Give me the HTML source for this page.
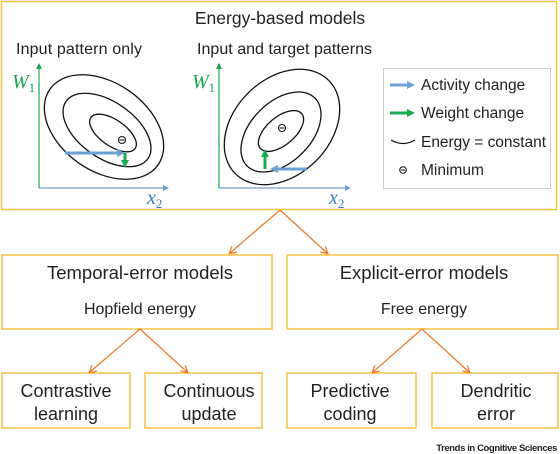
<!DOCTYPE html>
<html><head><meta charset="utf-8"><style>
html,body{margin:0;padding:0;background:#fff;}
svg{display:block;font-family:"Liberation Sans",sans-serif;}
</style></head><body>
<svg width="560" height="454" viewBox="0 0 560 454" xmlns="http://www.w3.org/2000/svg">
<defs>
<marker id="ao" markerWidth="8" markerHeight="8" refX="6" refY="4" orient="auto" markerUnits="userSpaceOnUse"><path d="M0,0 L7,4 L0,8" fill="none" stroke="#ed7d31" stroke-width="1.3"/></marker>
<marker id="ab" markerWidth="8" markerHeight="8" refX="1" refY="4" orient="auto" markerUnits="userSpaceOnUse"><path d="M0,0 L8,4 L0,8 Z" fill="#6fa0d4"/></marker>
<marker id="ag" markerWidth="8" markerHeight="8" refX="1" refY="4" orient="auto" markerUnits="userSpaceOnUse"><path d="M0,0 L8,4 L0,8 Z" fill="#1aa850"/></marker>
<marker id="sb" markerWidth="6" markerHeight="6" refX="5" refY="3" orient="auto" markerUnits="userSpaceOnUse"><path d="M0,0 L6,3 L0,6 Z" fill="#6fa0d4"/></marker>
<marker id="sg" markerWidth="6" markerHeight="6" refX="5" refY="3" orient="auto" markerUnits="userSpaceOnUse"><path d="M0,0 L6,3 L0,6 Z" fill="#1aa850"/></marker>
</defs>
<g fill="none" stroke="#f5c242" stroke-width="1.5">
<rect x="1.5" y="1.5" width="555" height="208"/>
<rect x="2" y="255" width="270" height="74"/>
<rect x="287" y="255" width="271" height="74"/>
<rect x="2" y="373" width="128" height="55"/>
<rect x="145" y="373" width="117" height="55"/>
<rect x="287" y="373" width="129" height="55"/>
<rect x="432" y="373" width="126" height="55"/>
</g>
<g stroke="#ed7d31" stroke-width="1.3" marker-end="url(#ao)">
<line x1="280" y1="210" x2="230" y2="253"/>
<line x1="280" y1="210" x2="327" y2="253"/>
<line x1="140" y1="329" x2="90" y2="372"/>
<line x1="140" y1="329" x2="187" y2="372"/>
<line x1="422" y1="329" x2="373" y2="372"/>
<line x1="422" y1="329" x2="469" y2="372"/>
</g>
<g fill="#222" text-anchor="middle">
<text x="280" y="24" font-size="17.5">Energy-based models</text>
<text x="140" y="279" font-size="18.5">Temporal-error models</text>
<text x="140" y="314" font-size="16">Hopfield energy</text>
<text x="424" y="279" font-size="18.5">Explicit-error models</text>
<text x="424" y="314" font-size="16">Free energy</text>
<text x="66" y="397" font-size="18">Contrastive</text>
<text x="66" y="420" font-size="18">learning</text>
<text x="209" y="397" font-size="18">Continuous</text>
<text x="209" y="420" font-size="18">update</text>
<text x="350" y="397" font-size="18">Predictive</text>
<text x="350" y="420" font-size="18">coding</text>
<text x="496" y="397" font-size="18">Dendritic</text>
<text x="496" y="420" font-size="18">error</text>
</g>
<text x="557" y="451" font-size="9.5" font-weight="bold" text-anchor="end" fill="#222" letter-spacing="-0.4">Trends in Cognitive Sciences</text>
<g fill="#222" font-size="16">
<text x="16" y="54" textLength="126">Input pattern only</text>
<text x="197" y="54" textLength="175">Input and target patterns</text>
</g>
<!-- left plot -->
<g stroke="#6fa0d4" stroke-width="1.2"><line x1="39" y1="188" x2="168" y2="188" marker-end="url(#sb)"/></g>
<g stroke="#1aa850" stroke-width="1.2"><line x1="39" y1="188" x2="39" y2="64" marker-end="url(#sg)"/></g>
<g fill="none" stroke="#111" stroke-width="1.3">
<ellipse cx="104" cy="127" rx="66" ry="44" transform="rotate(35 104 127)"/>
<ellipse cx="107" cy="130" rx="50" ry="28" transform="rotate(35 107 130)"/>
<ellipse cx="113" cy="133" rx="27" ry="13" transform="rotate(35 113 133)"/>
<circle cx="122" cy="140" r="3.5" stroke-width="1"/>
</g>
<line x1="119.5" y1="140" x2="124.5" y2="140" stroke="#111" stroke-width="1"/>
<line x1="65" y1="153" x2="118" y2="153" stroke="#6fa0d4" stroke-width="3" marker-end="url(#ab)"/>
<line x1="125" y1="153" x2="125" y2="161" stroke="#1aa850" stroke-width="3" marker-end="url(#ag)"/>
<!-- right plot -->
<g stroke="#6fa0d4" stroke-width="1.2"><line x1="219" y1="188" x2="350" y2="188" marker-end="url(#sb)"/></g>
<g stroke="#1aa850" stroke-width="1.2"><line x1="219" y1="188" x2="219" y2="64" marker-end="url(#sg)"/></g>
<g fill="none" stroke="#111" stroke-width="1.3">
<ellipse cx="282" cy="127" rx="66" ry="48" transform="rotate(-45 282 127)"/>
<ellipse cx="281" cy="132" rx="48" ry="30" transform="rotate(-45 281 132)"/>
<ellipse cx="281" cy="131" rx="27" ry="14" transform="rotate(-40 281 131)"/>
<circle cx="282" cy="128" r="3.5" stroke-width="1"/>
</g>
<line x1="279.5" y1="128" x2="284.5" y2="128" stroke="#111" stroke-width="1"/>
<line x1="307" y1="169" x2="277" y2="169" stroke="#6fa0d4" stroke-width="3" marker-end="url(#ab)"/>
<line x1="265" y1="169" x2="265" y2="156" stroke="#1aa850" stroke-width="3" marker-end="url(#ag)"/>
<g font-family="Liberation Serif,serif" font-style="italic" font-size="20">
<text x="12" y="88" fill="#1aa850">W<tspan font-size="13" font-style="normal" dy="4">1</tspan></text>
<text x="192" y="88" fill="#1aa850">W<tspan font-size="13" font-style="normal" dy="4">1</tspan></text>
<text x="147" y="204" fill="#3a7dc4">x<tspan font-size="13" font-style="normal" dy="4">2</tspan></text>
<text x="329" y="204" fill="#3a7dc4">x<tspan font-size="13" font-style="normal" dy="4">2</tspan></text>
</g>
<!-- legend -->
<rect x="383.5" y="68.5" width="167" height="120" fill="none" stroke="#ccc" stroke-width="1"/>
<line x1="390" y1="85" x2="408" y2="85" stroke="#6fa0d4" stroke-width="3" marker-end="url(#ab)"/>
<line x1="390" y1="113" x2="408" y2="113" stroke="#1aa850" stroke-width="3" marker-end="url(#ag)"/>
<path d="M391,140 Q403,147 415,140" fill="none" stroke="#111" stroke-width="1.2"/>
<circle cx="403" cy="170" r="3.3" fill="none" stroke="#111" stroke-width="1"/>
<line x1="400.8" y1="170" x2="405.2" y2="170" stroke="#111" stroke-width="1"/>
<g fill="#222" font-size="15.5">
<text x="421" y="90">Activity change</text>
<text x="421" y="118">Weight change</text>
<text x="421" y="147" textLength="125">Energy = constant</text>
<text x="421" y="175">Minimum</text>
</g>
</svg>
</body></html>
